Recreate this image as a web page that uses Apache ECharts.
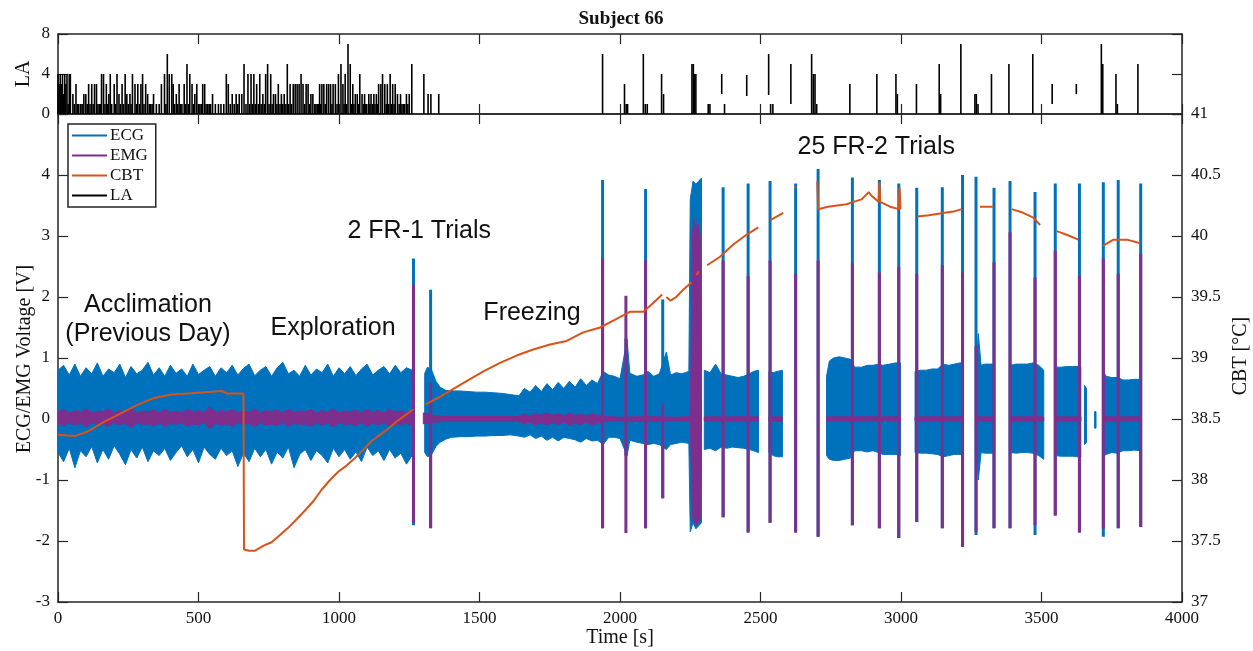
<!DOCTYPE html>
<html><head><meta charset="utf-8">
<script src="https://cdn.jsdelivr.net/npm/echarts@6/dist/echarts.min.js"></script>
<style>html,body{margin:0;padding:0;background:#fff}#c{width:1253px;height:651px}</style>
</head><body><div id="c"></div>
<script>
// ---------------- DATA ----------------
const X_TICKS = [0, 500, 1000, 1500, 2000, 2500, 3000, 3500, 4000];
const LEGEND_NAMES = ['ECG', 'EMG', 'CBT', 'LA'];

// ECG envelope (upper / lower) per time sample; null = recording gap
const ECG_T = [0,20,40,60,80,100,120,140,160,180,200,220,240,260,280,300,320,340,360,380,400,420,440,460,480,500,520,540,560,580,600,620,640,660,680,700,720,740,760,780,800,820,840,860,880,900,920,940,960,980,1000,1020,1040,1060,1080,1100,1120,1140,1160,1180,1200,1220,1240,1260,
 null,1305,1315,1330,1345,1360,1380,1400,1430,1460,1490,1520,1550,1580,1610,1640,1660,1680,1700,1720,1740,1760,1780,1800,1820,1840,1860,1880,1900,1920,1940,1960,1980,2000,2025,2035,2060,2080,2100,2120,2140,2165,2180,2200,2220,2245,2250,2260,2270,2280,2290,
 null,2300,2320,2340,2360,2380,2400,2420,2440,2460,2475,2493,
 null,2530,2545,2560,2578,
 null,2735,2745,2760,2780,2800,2820,2835,2860,2880,2900,2920,2935,2960,2980,2998,
 null,3050,3070,3090,3110,3130,3150,3170,3190,3210,3222,
 null,3268,3275,3285,3300,3315,3333,
 null,3390,3410,3430,3450,3470,3490,3508,
 null,3550,3570,3590,3610,3630,3640,
 null,3653,3660,
 null,3689,3694,
 null,3718,3730,3750,3770,3790,3810,3830,3853];
const ECG_HI = [0.80,0.88,0.72,0.90,0.70,0.84,0.74,0.92,0.70,0.82,0.76,0.90,0.68,0.86,0.74,0.80,0.93,0.72,0.84,0.70,0.88,0.75,0.82,0.70,0.90,0.73,0.80,0.86,0.70,0.84,0.76,0.88,0.72,0.83,0.90,0.71,0.80,0.86,0.70,0.84,0.93,0.74,0.80,0.70,0.88,0.72,0.82,0.76,0.90,0.70,0.84,0.74,0.86,0.71,0.82,0.90,0.72,0.80,0.86,0.74,0.88,0.76,0.84,0.80,
 null,0.75,0.85,0.80,0.62,0.52,0.47,0.46,0.46,0.45,0.44,0.44,0.43,0.42,0.40,0.38,0.50,0.44,0.55,0.45,0.58,0.48,0.60,0.50,0.62,0.52,0.66,0.55,0.64,0.58,0.78,0.72,0.70,0.66,1.30,0.75,0.70,0.72,0.78,0.70,0.74,1.10,0.72,0.76,0.74,0.78,3.60,3.90,3.85,3.90,3.95,
 null,0.80,0.76,0.90,0.74,0.72,0.70,0.68,0.70,0.74,0.78,0.80,
 null,0.78,0.76,0.78,0.80,
 null,0.70,0.95,1.00,1.02,1.00,0.98,0.85,0.85,0.88,0.88,0.90,0.88,0.90,0.92,0.92,
 null,0.78,0.80,0.80,0.82,0.82,0.90,0.88,0.90,0.92,0.92,
 null,0.85,1.40,0.88,0.90,0.90,0.90,
 null,0.88,0.90,0.90,0.90,0.92,0.88,0.80,
 null,0.85,0.85,0.86,0.86,0.86,0.86,
 null,0.55,0.50,
 null,0.12,0.12,
 null,0.80,0.70,0.68,0.68,0.64,0.64,0.65,0.65];
const ECG_LO = [-0.55,-0.70,-0.48,-0.80,-0.52,-0.62,-0.45,-0.72,-0.50,-0.66,-0.44,-0.58,-0.75,-0.50,-0.64,-0.46,-0.70,-0.52,-0.60,-0.48,-0.68,-0.55,-0.44,-0.62,-0.50,-0.72,-0.46,-0.58,-0.66,-0.48,-0.60,-0.52,-0.78,-0.56,-0.70,-0.48,-0.62,-0.50,-0.74,-0.54,-0.64,-0.46,-0.80,-0.58,-0.50,-0.68,-0.52,-0.60,-0.72,-0.48,-0.62,-0.50,-0.66,-0.54,-0.70,-0.46,-0.60,-0.52,-0.68,-0.50,-0.64,-0.56,-0.74,-0.60,
 null,-0.55,-0.62,-0.58,-0.45,-0.38,-0.33,-0.30,-0.29,-0.29,-0.28,-0.28,-0.27,-0.27,-0.26,-0.28,-0.30,-0.26,-0.32,-0.28,-0.35,-0.30,-0.36,-0.30,-0.32,-0.34,-0.38,-0.32,-0.36,-0.35,-0.42,-0.30,-0.30,-0.32,-0.60,-0.35,-0.38,-0.40,-0.42,-0.40,-0.42,-0.50,-0.42,-0.40,-0.38,-0.40,-1.85,-1.70,-1.80,-1.75,-1.70,
 null,-0.50,-0.48,-0.52,-0.46,-0.48,-0.46,-0.47,-0.48,-0.50,-0.52,-0.55,
 null,-0.55,-0.60,-0.62,-0.62,
 null,-0.60,-0.66,-0.68,-0.68,-0.66,-0.64,-0.52,-0.52,-0.54,-0.52,-0.55,-0.58,-0.58,-0.58,-0.60,
 null,-0.55,-0.56,-0.56,-0.57,-0.58,-0.62,-0.60,-0.58,-0.58,-0.58,
 null,-0.55,-1.00,-0.55,-0.56,-0.56,-0.56,
 null,-0.55,-0.56,-0.55,-0.55,-0.56,-0.60,-0.66,
 null,-0.60,-0.61,-0.61,-0.61,-0.62,-0.62,
 null,-0.42,-0.38,
 null,-0.15,-0.15,
 null,-0.62,-0.58,-0.55,-0.56,-0.52,-0.52,-0.51,-0.52];

// EMG envelope
const EMG_T = [0,20,40,60,80,100,120,140,160,180,200,220,240,260,280,300,320,340,360,380,400,420,440,460,480,500,520,540,560,580,600,620,640,660,680,700,720,740,760,780,800,820,840,860,880,900,920,940,960,980,1000,1020,1040,1060,1080,1100,1120,1140,1160,1180,1200,1220,1240,1260,
 null,1300,1320,1340,1380,1450,1550,1640,1660,1680,1700,1720,1740,1760,1780,1800,1820,1840,1860,1880,1900,1920,1935,1945,2000,2100,2200,2250,2258,2264,2270,2278,2285,2290,
 null,2300,2493, null,2530,2578, null,2735,2998, null,3050,3222, null,3268,3333, null,3390,3508, null,3550,3640, null,3718,3853];
const EMG_HI = [0.12,0.16,0.10,0.14,0.11,0.17,0.10,0.13,0.12,0.16,0.10,0.14,0.11,0.18,0.10,0.13,0.12,0.15,0.10,0.16,0.11,0.13,0.10,0.16,0.12,0.14,0.10,0.20,0.11,0.14,0.12,0.16,0.10,0.13,0.11,0.17,0.10,0.14,0.12,0.15,0.10,0.16,0.11,0.13,0.12,0.16,0.10,0.14,0.11,0.17,0.10,0.13,0.12,0.15,0.10,0.16,0.11,0.14,0.10,0.16,0.12,0.13,0.11,0.14,
 null,0.10,0.08,0.05,0.04,0.04,0.04,0.04,0.08,0.05,0.09,0.06,0.10,0.06,0.09,0.05,0.10,0.06,0.08,0.05,0.09,0.06,0.06,0.04,0.03,0.04,0.03,0.04,3.00,3.28,3.10,3.20,3.00,0.04,
 null,0.035,0.035, null,0.035,0.035, null,0.035,0.035, null,0.035,0.035, null,0.035,0.035, null,0.035,0.035, null,0.035,0.035, null,0.035,0.035];
const EMG_LO = [-0.08,-0.11,-0.06,-0.10,-0.07,-0.13,-0.06,-0.09,-0.08,-0.12,-0.06,-0.10,-0.07,-0.14,-0.06,-0.09,-0.08,-0.11,-0.06,-0.12,-0.07,-0.09,-0.06,-0.12,-0.08,-0.10,-0.06,-0.16,-0.07,-0.10,-0.08,-0.12,-0.06,-0.09,-0.07,-0.13,-0.06,-0.10,-0.08,-0.11,-0.06,-0.12,-0.07,-0.09,-0.08,-0.12,-0.06,-0.10,-0.07,-0.13,-0.06,-0.09,-0.08,-0.11,-0.06,-0.12,-0.07,-0.10,-0.06,-0.12,-0.08,-0.09,-0.07,-0.10,
 null,-0.08,-0.07,-0.05,-0.04,-0.04,-0.04,-0.04,-0.08,-0.05,-0.10,-0.06,-0.10,-0.06,-0.09,-0.05,-0.11,-0.06,-0.09,-0.05,-0.10,-0.06,-0.06,-0.04,-0.03,-0.04,-0.03,-0.04,-1.60,-1.70,-1.75,-1.70,-1.65,-0.04,
 null,-0.035,-0.035, null,-0.035,-0.035, null,-0.035,-0.035, null,-0.035,-0.035, null,-0.035,-0.035, null,-0.035,-0.035, null,-0.035,-0.035, null,-0.035,-0.035];

// Trial spikes (2 FR-1 + FR-2 trials)
const TRIAL_T    = [1265,1326,1938,2021,2091,2152,2367,2456,2534,2625,2705,2827,2923,2992,3056,3147,3219,3267,3331,3388,3477,3549,3635,3720,3773,3853];
const ECG_SPK_HI = [2.63,2.12,3.92,1.32,3.77,1.96,3.80,3.86,3.90,3.86,4.10,3.96,3.92,3.86,3.79,3.80,4.00,3.97,3.79,3.90,3.72,3.86,3.86,3.88,3.92,3.86];
const ECG_SPK_LO = [-1.74,-1.79,-1.79,-0.60,-1.79,-1.30,-1.61,-1.86,-1.70,-1.86,-1.93,-1.74,-1.79,-1.95,-1.69,-1.79,-2.10,-1.90,-1.79,-1.79,-1.90,-1.58,-1.86,-1.93,-1.79,-1.77];
const EMG_SPK_HI = [2.20,0.60,2.63,2.02,2.60,0.25,2.60,2.35,2.60,2.38,2.60,2.55,2.40,2.49,2.38,2.52,2.40,1.20,2.57,3.06,2.32,2.76,2.35,2.63,2.38,2.71];
const EMG_SPK_LO = [-1.70,-1.79,-1.79,-1.87,-1.79,-1.30,-1.61,-1.86,-1.70,-1.86,-1.93,-1.74,-1.79,-1.95,-1.69,-1.79,-2.10,-1.85,-1.79,-1.79,-1.74,-1.58,-1.86,-1.80,-1.79,-1.77];

// Core body temperature (°C); null = gap
const CBT_T = [0,60,108,167,227,286,345,405,464,523,582,600,630,660,662,680,700,730,760,790,820,850,879,910,938,968,998,1028,1057,1087,1116,1146,1175,1205,1235,1265,
 null,1308,1350,1395,1454,1514,1573,1632,1691,1751,1810,1869,1929,1988,2036,2060,2083,2118,2150,
 null,2165,2180,2200,2225,2255, null,2272,2280, null,2310,2356,2403,2450,2492, null,2535,2581, null,2620,2628,
 null,2702,2705,2712,2740,2806,2831,2860,2885,2895,2920,2923,2926,2961,2992,2995,2998,
 null,3058,3100,3127,3186,3216, null,3281,3327, null,3394,3435,3471,3495, null,3554,3590,3631, null,3718,3756,3804,3851];
const CBT_V = [38.37,38.36,38.40,38.48,38.55,38.62,38.675,38.70,38.71,38.72,38.73,38.71,38.71,38.71,37.43,37.42,37.42,37.46,37.49,37.55,37.61,37.68,37.75,37.83,37.92,38.00,38.07,38.12,38.18,38.25,38.32,38.37,38.42,38.48,38.53,38.58,
 null,38.62,38.67,38.73,38.81,38.89,38.96,39.02,39.07,39.11,39.14,39.21,39.25,39.32,39.38,39.38,39.38,39.45,39.52,
 null,39.50,39.47,39.50,39.56,39.62, null,39.68,39.71, null,39.76,39.83,39.93,40.01,40.07, null,40.13,40.19, null,40.40,40.40,
 null,40.45,40.22,40.22,40.24,40.26,40.28,40.30,40.36,40.33,40.28,40.44,40.28,40.24,40.22,40.40,40.22,
 null,40.16,40.17,40.18,40.20,40.22, null,40.24,40.24, null,40.22,40.19,40.15,40.09, null,40.04,40.01,39.97, null,39.92,39.97,39.97,39.94];

// Locomotor activity (LA) counts: time, value, base (base > 0 where trace floats)
const LA_T = [0,4,8,12,16,20,24,28,32,36,40,44,53,64,74,81,92,99,109,120,130,137,147,155,162,172,181,186,200,210,217,228,239,245,256,265,274,284,295,301,312,319,330,340,368,379,389,396,405,410,421,431,441,449,459,469,477,487,494,505,515,522,533,543,550,571,599,606,620,634,645,654,662,676,687,697,707,718,729,739,746,757,767,774,784,795,805,816,826,837,844,851,858,865,872,883,890,900,907,914,923,931,939,946,956,963,970,979,987,998,1007,1014,1022,1032,1040,1049,1058,1065,1074,1082,1091,1099,1106,1114,1124,1133,1141,1149,1155,1163,1172,1182,1191,1200,1208,1219,1229,1240,1250,1259,1302,1317,1327,1355,
 58,69,86,104,114,125,142,151,167,177,191,205,222,233,250,260,279,290,306,325,335,350,360,384,415,426,436,454,464,482,500,510,527,538,560,580,590,613,627,640,669,682,692,702,713,723,734,751,762,779,790,800,811,821,831,878,895,918,927,935,951,975,993,1018,1027,1045,1053,1070,1087,1095,1110,1119,1128,1137,1168,1177,1187,1196,1214,1224,1234,1245,
 1938,2016,2022,2027,2083,2090,2097,2148,2155,2256,2261,2265,2270,2314,2320,2362,2372,2451,2529,2536,2544,2608,2682,2688,2694,2700,2818,2914,2982,2987,3055,3136,3141,3213,3263,3268,3274,3322,3384,3469,3538,3624,3713,3718,3765,3770,3843];
const LA_V = [4,3,4,3,4,2,4,3,4,1,4,4,2,3,1,1,2,2,3,3,3,3,1,4,4,3,2,4,3,4,2,3,4,2,2,4,3,3,3,4,3,2,1,2,3,4,6,4,4,3,2,3,1,3,5,4,3,2,3,1,3,3,1,1,2,1,4,3,2,2,2,2,5,4,4,4,3,4,2,4,5,4,2,2,3,2,2,5,3,3,3,3,3,4,3,3,3,2,2,1,1,3,3,3,3,3,3,3,3,4,5,3,4,7,5,3,2,2,4,2,2,1,2,2,2,2,3,3,4,3,3,4,3,3,2,2,1,2,2,5,4,2,2,2,
 1,1,1,1,1,1,1,1,1,1,1,1,1,1,1,1,1,1,1,1,1,1,1,1,1,1,1,1,1,1,1,1,1,1,1,1,1,1,1,1,1,1,1,1,1,1,1,1,1,1,1,1,1,1,1,1,1,1,1,1,1,1,1,1,1,1,1,1,1,1,1,1,1,1,1,1,1,1,1,1,1,1,
 6,3,1,1,6,1,1,4,2,5,5,4,4,1,1,4,1,3.9,6,1,1,5,6,4,4,1,3,4,4,2,3,5,2,7,2,2,1,4,5,6,3,3,7,5,4,1,5];
const LA_B = {2362:2, 2451:1.8, 2529:1.9, 2608:1, 3538:1, 3624:2};

// ---------------- BUILD ----------------
const C_ECG = '#0072BD', C_EMG = '#7E2F8E', C_CBT = '#D95319', C_LA = '#000000';
const AX = '#262626';
const SERIF = '"Liberation Serif","Times New Roman",serif';
const SANS = '"Liberation Sans",Arial,sans-serif';

function segments(T, HI, LO) {
  const segs = []; let cur = [];
  for (let i = 0; i < T.length; i++) {
    if (T[i] === null) { if (cur.length) segs.push(cur); cur = []; }
    else cur.push([T[i], HI[i], LO[i]]);
  }
  if (cur.length) segs.push(cur);
  return segs;
}
const ecgSegs = segments(ECG_T, ECG_HI, ECG_LO);
const emgSegs = segments(EMG_T, EMG_HI, EMG_LO);

function bandSeries(name, segs, color) {
  return {
    type: 'custom', name, xAxisIndex: 2, yAxisIndex: 2, silent: true,
    itemStyle: { color },
    data: segs.map((s) => [s[0][0], s[0][1]]),
    encode: { x: 0, y: 1 },
    renderItem: (params, api) => {
      const s = segs[params.dataIndex];
      const pts = [];
      for (let k = 0; k < s.length; k++) pts.push(api.coord([s[k][0], s[k][1]]));
      for (let k = s.length - 1; k >= 0; k--) pts.push(api.coord([s[k][0], s[k][2]]));
      return { type: 'polygon', shape: { points: pts }, style: { fill: color, stroke: color, lineWidth: 1 } };
    }
  };
}
function spikeSeries(name, data, color, width, xi, yi) {
  return {
    type: 'custom', name, xAxisIndex: xi, yAxisIndex: yi, silent: true,
    itemStyle: { color },
    data, encode: { x: 0, y: [1, 2] },
    renderItem: (params, api) => {
      const t = api.value(0), lo = api.value(1), hi = api.value(2);
      const a = api.coord([t, lo]), b = api.coord([t, hi]);
      return { type: 'line', shape: { x1: a[0], y1: a[1], x2: b[0], y2: b[1] }, style: { stroke: color, lineWidth: width } };
    }
  };
}

const ecgSpk = TRIAL_T.map((t, i) => [t, ECG_SPK_LO[i], ECG_SPK_HI[i]]);
const emgSpk = TRIAL_T.map((t, i) => [t, EMG_SPK_LO[i], EMG_SPK_HI[i]]);
const laData = LA_T.map((t, i) => [t, LA_B[t] || 0, LA_V[i]]);
const cbtData = CBT_T.map((t, i) => t === null ? '-' : [t, CBT_V[i]]);

const tickStyle = { inside: true, length: 10, lineStyle: { color: AX, width: 1.2 } };
const lineStyle = { lineStyle: { color: AX, width: 1.5 } };
const labelStyle = { color: '#111', fontFamily: SERIF, fontSize: 17 };

function xAx(grid, pos, labels) {
  return { type: 'value', gridIndex: grid, position: pos, min: 0, max: 4000, interval: 500,
    axisLine: { show: true, onZero: false, ...lineStyle }, axisTick: { show: true, ...tickStyle },
    axisLabel: { show: labels, margin: 8, ...labelStyle, formatter: (v) => String(v) }, splitLine: { show: false } };
}

const chart = echarts.init(document.getElementById('c'), null, { renderer: 'canvas' });
chart.setOption({
  animation: false,
  backgroundColor: '#fff',
  grid: [
    { left: 58, top: 34, width: 1124, height: 80 },
    { left: 58, top: 114, width: 1124, height: 488 }
  ],
  xAxis: [ xAx(0, 'bottom', false), xAx(0, 'top', false), xAx(1, 'bottom', true), xAx(1, 'top', false) ],
  yAxis: [
    { type: 'value', gridIndex: 0, position: 'left', min: 0, max: 8, interval: 4,
      axisLine: { show: true, onZero: false, ...lineStyle }, axisTick: { show: true, ...tickStyle },
      axisLabel: { margin: 8, ...labelStyle }, splitLine: { show: false } },
    { type: 'value', gridIndex: 0, position: 'right', min: 0, max: 8, interval: 4,
      axisLine: { show: true, onZero: false, ...lineStyle }, axisTick: { show: true, ...tickStyle },
      axisLabel: { show: false }, splitLine: { show: false } },
    { type: 'value', gridIndex: 1, position: 'left', min: -3, max: 5, interval: 1,
      axisLine: { show: true, onZero: false, ...lineStyle }, axisTick: { show: true, ...tickStyle },
      axisLabel: { margin: 8, ...labelStyle, formatter: (v) => v === 5 ? '' : String(v) }, splitLine: { show: false } },
    { type: 'value', gridIndex: 1, position: 'right', min: 37, max: 41, interval: 0.5,
      axisLine: { show: true, onZero: false, ...lineStyle }, axisTick: { show: true, ...tickStyle },
      axisLabel: { margin: 9, ...labelStyle }, splitLine: { show: false } }
  ],
  legend: {
    orient: 'vertical', left: 68, top: 124, selectedMode: false,
    data: LEGEND_NAMES.map(n => ({ name: n, icon: 'rect' })),
    itemWidth: 35, itemHeight: 2, itemGap: 3,
    padding: [3, 8, 3, 4],
    borderColor: AX, borderWidth: 1.5, backgroundColor: '#fff',
    textStyle: { fontFamily: SERIF, fontSize: 17, color: '#111', padding: [0, 0, 0, -2] }
  },
  series: [
    bandSeries('ECG', ecgSegs, C_ECG),
    spikeSeries('ECG', ecgSpk, C_ECG, 3, 2, 2),
    bandSeries('EMG', emgSegs, C_EMG),
    spikeSeries('EMG', emgSpk, C_EMG, 3, 2, 2),
    { type: 'line', name: 'CBT', xAxisIndex: 2, yAxisIndex: 3, data: cbtData, showSymbol: false,
      connectNulls: false, silent: true, lineStyle: { color: C_CBT, width: 2 }, itemStyle: { color: C_CBT } },
    spikeSeries('LA', laData, C_LA, 1.6, 0, 0)
  ],
  graphic: [
    { type: 'text', x: 621, y: 19, z: 100, style: { text: 'Subject 66', fontFamily: SERIF, fontSize: 19, fontWeight: 'bold', fill: '#111', align: 'center', verticalAlign: 'middle' } },
    { type: 'text', x: 24, y: 74, rotation: Math.PI / 2, z: 100, style: { text: 'LA', fontFamily: SERIF, fontSize: 20, fill: '#111', align: 'center', verticalAlign: 'middle' } },
    { type: 'text', x: 25, y: 359, rotation: Math.PI / 2, z: 100, style: { text: 'ECG/EMG Voltage [V]', fontFamily: SERIF, fontSize: 20, fill: '#111', align: 'center', verticalAlign: 'middle' } },
    { type: 'text', x: 1241, y: 356, rotation: Math.PI / 2, z: 100, style: { text: 'CBT [°C]', fontFamily: SERIF, fontSize: 20, fill: '#111', align: 'center', verticalAlign: 'middle' } },
    { type: 'text', x: 620, y: 638, z: 100, style: { text: 'Time [s]', fontFamily: SERIF, fontSize: 20, fill: '#111', align: 'center', verticalAlign: 'middle' } },
    { type: 'text', x: 148, y: 305, z: 100, style: { text: 'Acclimation', fontFamily: SANS, fontSize: 25, fill: '#111', align: 'center', verticalAlign: 'middle' } },
    { type: 'text', x: 148, y: 334, z: 100, style: { text: '(Previous Day)', fontFamily: SANS, fontSize: 25, fill: '#111', align: 'center', verticalAlign: 'middle' } },
    { type: 'text', x: 333, y: 328, z: 100, style: { text: 'Exploration', fontFamily: SANS, fontSize: 25, fill: '#111', align: 'center', verticalAlign: 'middle' } },
    { type: 'text', x: 491, y: 231, z: 100, style: { text: '2 FR-1 Trials', fontFamily: SANS, fontSize: 25, fill: '#111', align: 'right', verticalAlign: 'middle' } },
    { type: 'text', x: 532, y: 313, z: 100, style: { text: 'Freezing', fontFamily: SANS, fontSize: 25, fill: '#111', align: 'center', verticalAlign: 'middle' } },
    { type: 'text', x: 955, y: 147, z: 100, style: { text: '25 FR-2 Trials', fontFamily: SANS, fontSize: 25, fill: '#111', align: 'right', verticalAlign: 'middle' } }
  ]
});
</script></body></html>
